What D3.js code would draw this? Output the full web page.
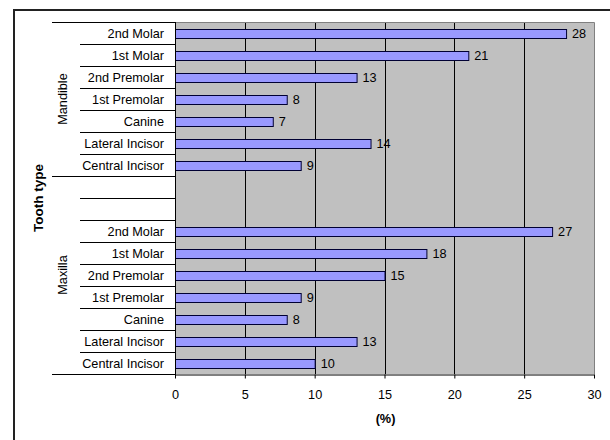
<!DOCTYPE html>
<html>
<head>
<meta charset="utf-8">
<script src="https://cdn.jsdelivr.net/npm/d3@7"></script>
<style>
  html, body { margin: 0; padding: 0; background: #fff; }
  svg { display: block; font-family: Arial, "Liberation Sans", sans-serif; }
</style>
</head>
<body>
<svg id="chart" width="610" height="440"></svg>
<script>
// Tooth rows, top to bottom; two blank spacer rows separate the jaws
const mandibleTeeth = ["2nd Molar", "1st Molar", "2nd Premolar", "1st Premolar", "Canine", "Lateral Incisor", "Central Incisor"];
const maxillaTeeth  = ["2nd Molar", "1st Molar", "2nd Premolar", "1st Premolar", "Canine", "Lateral Incisor", "Central Incisor"];
const mandibleValues = [28, 21, 13, 8, 7, 14, 9];
const maxillaValues  = [27, 18, 15, 9, 8, 13, 10];
const spacerRows = 2;
const groupNames = ["Mandible", "Maxilla"];
const xTicks = [0, 5, 10, 15, 20, 25, 30];
const xTitle = "(%)";
const yTitle = "Tooth type";

const FS = 12.7;

// Flatten into rows with unique keys
const rows = [];
mandibleTeeth.forEach((t, i) => rows.push({ key: "md" + i, label: t, value: mandibleValues[i], group: 0 }));
for (let i = 0; i < spacerRows; i++) rows.push({ key: "sp" + i, label: "", value: null, group: 1 });
maxillaTeeth.forEach((t, i) => rows.push({ key: "mx" + i, label: t, value: maxillaValues[i], group: 1 }));

const svg = d3.select("#chart");
const plot = { left: 175, right: 594, top: 22, bottom: 374 };
const labelLeftShort = 80, labelLeftLong = 52;

// Outer frame (runs off the right and bottom edges)
svg.append("rect").attr("x", 14).attr("y", 10).attr("width", 620).attr("height", 460)
  .attr("fill", "none").attr("stroke", "#222").attr("stroke-width", 2);

const x = d3.scaleLinear().domain([0, 30]).range([plot.left, plot.right]);
const y = d3.scaleBand().domain(rows.map(r => r.key)).range([plot.top, plot.bottom]).paddingInner(0).paddingOuter(0);

// Plot background
svg.append("rect").attr("x", plot.left).attr("y", plot.top)
  .attr("width", plot.right - plot.left).attr("height", plot.bottom - plot.top)
  .attr("fill", "#c0c0c0");

// Vertical gridlines
svg.append("g").selectAll("line").data(xTicks.filter(t => t > 0 && t < 30)).join("line")
  .attr("x1", d => Math.round(x(d)) + 0.5).attr("x2", d => Math.round(x(d)) + 0.5)
  .attr("y1", plot.top).attr("y2", plot.bottom)
  .attr("stroke", "#000").attr("stroke-width", 1);

// Plot border (top and right)
svg.append("path")
  .attr("d", `M${plot.left},${plot.top + 0.5}H${plot.right + 0.5}V${plot.bottom}`)
  .attr("fill", "none").attr("stroke", "#808080").attr("stroke-width", 1);

// Bars
const barH = 9;
svg.append("g").selectAll("rect").data(rows.filter(r => r.value !== null)).join("rect")
  .attr("x", x(0) + 0.5)
  .attr("y", d => Math.round(y(d.key) + y.bandwidth() / 2 - barH / 2) + 0.5)
  .attr("width", d => x(d.value) - x(0))
  .attr("height", barH)
  .attr("fill", "#9999ff").attr("stroke", "#000033").attr("stroke-width", 1);

// Value labels
svg.append("g").selectAll("text").data(rows.filter(r => r.value !== null)).join("text")
  .attr("x", d => x(d.value) + 6)
  .attr("y", d => y(d.key) + y.bandwidth() / 2)
  .attr("dy", "0.36em")
  .attr("font-size", FS).attr("fill", "#000")
  .text(d => d.value);

// Category separators: long at group edges, short between rows
const boundaries = d3.range(rows.length + 1).map(i => {
  const yy = plot.top + i * y.bandwidth();
  const long = i === 0 || i === rows.length || (i < rows.length && i > 0 && rows[i].group !== rows[i - 1].group);
  return { y: yy, long };
});
svg.append("g").selectAll("line").data(boundaries).join("line")
  .attr("x1", d => d.long ? labelLeftLong : labelLeftShort)
  .attr("x2", plot.left)
  .attr("y1", d => Math.round(d.y) + 0.5).attr("y2", d => Math.round(d.y) + 0.5)
  .attr("stroke", "#000").attr("stroke-width", 1);

// Y axis line
svg.append("line").attr("x1", plot.left + 0.5).attr("x2", plot.left + 0.5)
  .attr("y1", plot.top).attr("y2", plot.bottom + 4)
  .attr("stroke", "#000");

// Tooth labels
svg.append("g").selectAll("text").data(rows).join("text")
  .attr("x", plot.left - 11)
  .attr("y", d => y(d.key) + y.bandwidth() / 2)
  .attr("dy", "0.36em").attr("text-anchor", "end")
  .attr("font-size", FS).attr("fill", "#000")
  .text(d => d.label);

// Group labels (rotated)
groupNames.forEach((g, gi) => {
  const gr = rows.filter(r => r.group === gi);
  const cy = (y(gr[0].key) + y(gr[gr.length - 1].key) + y.bandwidth()) / 2;
  svg.append("text")
    .attr("transform", `translate(67,${cy}) rotate(-90)`)
    .attr("text-anchor", "middle").attr("font-size", FS).attr("fill", "#000")
    .text(g);
});

// X axis
const xAxis = svg.append("g").attr("transform", `translate(0,${plot.bottom + 0.5})`)
  .call(d3.axisBottom(x).tickValues(xTicks).tickSize(4).tickPadding(11).tickSizeOuter(0));
xAxis.select(".domain").attr("stroke", "#000");
xAxis.selectAll(".tick line").attr("stroke", "#000");
xAxis.selectAll("text").attr("font-size", FS).attr("font-family", "Arial, 'Liberation Sans', sans-serif").attr("fill", "#000");

// Axis titles
svg.append("text").attr("x", (plot.left + plot.right) / 2 + 1).attr("y", 423)
  .attr("text-anchor", "middle").attr("font-size", FS).attr("font-weight", "bold")
  .text(xTitle);
svg.append("text")
  .attr("transform", `translate(43,${(plot.top + plot.bottom) / 2}) rotate(-90)`)
  .attr("text-anchor", "middle").attr("font-size", 13.5).attr("font-weight", "bold")
  .text(yTitle);
</script>
</body>
</html>
